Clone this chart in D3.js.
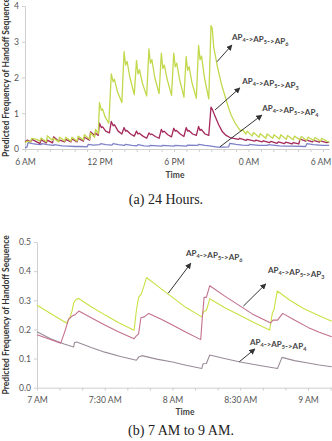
<!DOCTYPE html>
<html>
<head>
<meta charset="utf-8">
<script src="https://cdn.jsdelivr.net/npm/d3@7"></script>
<style>
body { margin: 0; background: #fff; }
svg { display: block; }
</style>
</head>
<body>
<div id="plot"></div>
<script>
// (a) 24 hours -- [hour of day, value], hours past 24 are the next morning
const dayTicks = [6, 12, 18, 24, 30];
const dayTickLabels = ["6 AM", "12 PM", "6 PM", "0 AM", "6 AM"];
const dayYTicks = [0, 1, 2, 3, 4];

const dayAP6 = [[6.0,0.18],[6.2,0.22],[6.45,0.2],[6.55,0.3],[6.95,0.27],[7.2,0.22],[7.3,0.31],[7.72,0.2],[7.8,0.37],
  [8.22,0.24],[8.3,0.3],[8.72,0.2],[8.78,0.33],[9.2,0.22],[9.28,0.33],[9.7,0.22],[9.78,0.33],[10.2,0.22],[10.28,0.36],
  [10.7,0.25],[10.78,0.4],[11.2,0.27],[11.28,0.45],[11.6,0.33],[11.68,0.55],[11.9,0.42],[12.0,1.3],[12.15,1.08],
  [12.25,1.12],[12.45,0.9],[12.75,0.72],[12.95,2.1],[13.1,1.88],[13.2,1.95],[13.45,1.6],[13.8,1.3],[13.98,2.72],
  [14.1,2.35],[14.22,2.45],[14.45,2.0],[14.8,1.52],[14.98,2.48],[15.1,2.1],[15.22,2.22],[15.45,1.85],[15.8,1.48],
  [15.98,2.8],[16.1,2.4],[16.22,2.5],[16.45,2.0],[16.8,1.55],[16.98,2.68],[17.1,2.25],[17.22,2.35],[17.45,1.95],
  [17.8,1.5],[17.98,2.68],[18.1,2.3],[18.22,2.4],[18.45,1.95],[18.8,1.45],[18.98,2.58],[19.1,2.2],[19.22,2.3],
  [19.45,1.85],[19.8,1.42],[19.98,2.9],[20.1,2.5],[20.22,2.6],[20.45,2.0],[20.8,1.4],[20.98,3.45],[21.08,3.38],
  [21.2,2.85],[21.5,2.3],[21.8,1.84],[22.35,1.2],[22.6,0.95],[22.9,0.74],[23.2,0.58],[23.4,0.5],[23.5,0.55],
  [23.8,0.42],[23.9,0.5],[24.3,0.36],[24.4,0.46],[24.85,0.33],[24.95,0.43],[25.4,0.3],[25.5,0.42],[25.95,0.3],
  [26.05,0.4],[26.5,0.28],[26.6,0.4],[27.05,0.27],[27.15,0.38],[27.6,0.26],[27.7,0.36],[28.15,0.25],[28.25,0.35],
  [28.7,0.24],[28.8,0.33],[29.25,0.24],[29.35,0.32],[29.8,0.22],[29.9,0.3],[30.3,0.22],[30.5,0.2]];

const dayAP3 = [[6.0,0.2],[6.2,0.25],[6.45,0.2],[6.55,0.27],[6.95,0.2],[7.2,0.15],[7.3,0.26],[7.72,0.17],[7.8,0.25],
  [8.22,0.17],[8.3,0.34],[8.72,0.22],[8.78,0.25],[9.2,0.2],[9.28,0.27],[9.7,0.2],[9.78,0.28],[10.2,0.2],[10.28,0.3],
  [10.7,0.22],[10.78,0.33],[11.2,0.25],[11.28,0.48],[11.6,0.38],[11.68,0.45],[11.9,0.38],[12.0,0.72],[12.15,0.6],
  [12.25,0.62],[12.5,0.5],[12.8,0.45],[12.95,0.77],[13.1,0.65],[13.2,0.68],[13.5,0.5],[13.8,0.42],[13.98,0.6],
  [14.1,0.5],[14.2,0.52],[14.5,0.42],[14.8,0.36],[14.98,0.5],[15.1,0.42],[15.2,0.44],[15.5,0.36],[15.8,0.3],
  [15.98,0.45],[16.1,0.4],[16.2,0.42],[16.5,0.35],[16.8,0.3],[16.98,0.55],[17.1,0.47],[17.2,0.5],[17.5,0.4],
  [17.8,0.34],[17.98,0.58],[18.1,0.5],[18.2,0.52],[18.5,0.42],[18.8,0.35],[18.98,0.6],[19.1,0.5],[19.2,0.52],
  [19.5,0.42],[19.8,0.38],[19.98,0.63],[20.1,0.52],[20.2,0.55],[20.5,0.42],[20.8,0.38],[20.98,1.17],[21.1,1.1],
  [21.3,0.92],[21.6,0.68],[21.9,0.48],[22.2,0.38],[22.5,0.32],[22.8,0.3],[23.2,0.27],[23.3,0.3],[23.8,0.24],
  [23.9,0.27],[24.5,0.22],[24.6,0.25],[25.1,0.2],[25.2,0.23],[25.7,0.18],[25.8,0.21],[26.3,0.16],[26.4,0.2],
  [26.9,0.15],[27.0,0.19],[27.5,0.14],[27.6,0.18],[28.05,0.14],[28.15,0.28],[28.6,0.22],[28.7,0.25],[29.15,0.2],
  [29.25,0.24],[29.7,0.19],[29.8,0.23],[30.3,0.18],[30.5,0.2]];

const dayAP4 = [[6.0,0.03],[6.15,0.05],[6.25,0.18],[6.6,0.15],[7.0,0.13],[7.3,0.12],[7.35,0.15],[7.8,0.12],[8.3,0.1],
  [8.35,0.12],[9.0,0.09],[9.5,0.08],[10.0,0.07],[10.5,0.07],[11.0,0.06],[11.1,0.13],[11.5,0.11],[12.0,0.12],
  [12.1,0.15],[12.5,0.12],[13.0,0.11],[13.1,0.15],[13.5,0.12],[14.0,0.1],[14.1,0.13],[14.6,0.1],[15.0,0.09],
  [15.1,0.12],[15.6,0.09],[16.0,0.08],[16.1,0.1],[17.0,0.08],[17.1,0.1],[18.0,0.08],[18.1,0.1],[19.0,0.08],
  [19.1,0.11],[19.9,0.1],[20.0,0.13],[20.5,0.1],[21.0,0.08],[21.5,0.05],[22.0,0.05],[22.4,0.06],[22.5,0.16],
  [23.0,0.13],[23.5,0.11],[24.0,0.1],[24.1,0.13],[24.8,0.1],[25.5,0.1],[25.6,0.12],[26.5,0.09],[27.0,0.08],
  [27.5,0.08],[28.6,0.07],[28.7,0.15],[29.2,0.12],[30.0,0.1],[30.5,0.1]];

// (b) 7 AM to 9 AM -- [minutes after 7 AM, value]
const morningTicks = [0, 30, 60, 90, 120];
const morningTickLabels = ["7 AM", "7:30 AM", "8 AM", "8:30 AM", "9 AM"];
const morningYTicks = [0, 0.1, 0.2, 0.3, 0.4, 0.5];

const morningAP6 = [[0,0.283],[13,0.222],[14.5,0.24],[15.5,0.262],[16.2,0.29],[17,0.3],[18.3,0.307],[24,0.278],
  [30,0.25],[36,0.224],[43,0.197],[44,0.265],[45,0.31],[46.2,0.322],[47.2,0.345],[48.5,0.378],[54,0.345],[60,0.31],
  [66,0.275],[73,0.243],[73.8,0.262],[75,0.265],[76.5,0.305],[83,0.275],[90,0.248],[96,0.224],[103,0.198],
  [104.2,0.255],[105,0.27],[106.4,0.332],[112,0.3],[118,0.272],[124,0.25],[130.5,0.228]];

const morningAP3 = [[0,0.182],[5,0.168],[10.5,0.153],[12.2,0.19],[13.2,0.215],[14,0.235],[15.4,0.245],[16.8,0.25],
  [18.5,0.263],[24,0.24],[30,0.215],[36,0.192],[43,0.168],[44,0.178],[45,0.185],[46,0.24],[47.5,0.243],[49.5,0.255],
  [55,0.235],[60,0.215],[66,0.19],[72.5,0.165],[73.2,0.24],[74,0.31],[75,0.31],[76.5,0.35],[83,0.315],[90,0.28],
  [96,0.25],[103.5,0.222],[104.5,0.232],[106.5,0.232],[108.8,0.255],[114,0.232],[120,0.207],[125,0.19],[130.5,0.175]];

const morningAP4 = [[0,0.192],[6,0.168],[12,0.15],[16.2,0.14],[16.6,0.155],[17.6,0.157],[24,0.138],[30,0.122],
  [37,0.107],[44,0.094],[45,0.105],[46.5,0.11],[53,0.098],[60,0.088],[66,0.077],[73,0.066],[73.5,0.082],[75,0.083],
  [76.5,0.112],[83,0.1],[90,0.088],[98,0.077],[106.5,0.066],[108.5,0.104],[114,0.093],[120,0.085],[125,0.078],[130.5,0.072]];

// subscripts of the three handoff sequences
const seqSubs = [["4","5","6"], ["4","5","3"], ["4","5","4"]];

const w = 332;
const h = 441;
const sansFont = "Lato, 'Open Sans', sans-serif";

const svg = d3.select("div#plot")
  .append("svg")
    .attr("width", w)
    .attr("height", h);

svg.append("defs").append("marker")
  .attr("id", "arrow")
  .attr("viewBox", "0 0 10 10")
  .attr("refX", 9)
  .attr("refY", 5)
  .attr("markerWidth", 6)
  .attr("markerHeight", 6)
  .attr("markerUnits", "userSpaceOnUse")
  .attr("orient", "auto")
  .append("path")
    .attr("d", "M0,0 L10,5 L0,10 Z")
    .attr("fill", "#333");

function drawPanel(cfg) {
  const g = svg.append("g");
  const xScale = d3.scaleLinear().domain(cfg.xDomain).range(cfg.xRange);
  const yScale = d3.scaleLinear().domain(cfg.yDomain).range(cfg.yRange);

  // y axis
  const yAxis = d3.axisLeft(yScale)
    .tickValues(cfg.yTicks)
    .tickFormat(cfg.yFormat)
    .tickSize(3)
    .tickSizeOuter(0)
    .tickPadding(cfg.yPad);
  const ya = g.append("g")
    .attr("transform", `translate(${cfg.xRange[0]},0)`)
    .call(yAxis);

  // x axis: minor ticks, labels only on the named ticks
  const xAxis = d3.axisBottom(xScale)
    .tickValues(cfg.xMinor)
    .tickFormat(d => {
      const i = cfg.xTicks.indexOf(d);
      return i >= 0 ? cfg.xLabels[i] : "";
    })
    .tickSize(3)
    .tickSizeOuter(0)
    .tickPadding(cfg.xPad);
  const xa = g.append("g")
    .attr("transform", `translate(0,${cfg.yRange[0]})`)
    .call(xAxis);

  [ya, xa].forEach(a => {
    a.select(".domain").attr("stroke", "#cfcfcf");
    a.selectAll(".tick line").attr("stroke", "#cfcfcf");
    a.selectAll(".tick text")
      .attr("fill", "#555")
      .style("font-family", sansFont)
      .style("font-size", "8.6px");
  });

  // keep the last x label inside the picture
  const lastTick = cfg.xTicks[cfg.xTicks.length - 1];
  xa.selectAll(".tick text")
    .filter(d => d === lastTick)
    .attr("dx", cfg.lastDx || 0);

  // series lines
  const line = d3.line()
    .x(d => xScale(d[0]))
    .y(d => yScale(d[1]));
  cfg.series.forEach(s => {
    g.append("path")
      .datum(s.data)
      .attr("d", line)
      .attr("fill", "none")
      .attr("stroke", s.color)
      .attr("stroke-width", cfg.lineWidth)
      .attr("stroke-linejoin", "round");
  });

  // arrows and sequence labels
  cfg.notes.forEach((n, i) => {
    g.append("line")
      .attr("x1", xScale(n.tail[0]))
      .attr("y1", yScale(n.tail[1]))
      .attr("x2", xScale(n.head[0]))
      .attr("y2", yScale(n.head[1]))
      .attr("stroke", "#333")
      .attr("stroke-width", 1)
      .attr("marker-end", "url(#arrow)");

    const t = g.append("text")
      .attr("x", xScale(n.text[0]))
      .attr("y", yScale(n.text[1]))
      .attr("fill", "#444")
      .style("font-family", sansFont)
      .style("font-weight", "bold")
      .style("font-size", "8px");
    seqSubs[i].forEach((sub, k) => {
      t.append("tspan").text((k > 0 ? "->" : "") + "AP");
      t.append("tspan").attr("dy", 2).style("font-size", "5.5px").text(sub);
      t.append("tspan").attr("dy", -2).text("");
    });
  });

  // axis titles
  g.append("text")
    .attr("x", cfg.timeAt[0])
    .attr("y", cfg.timeAt[1])
    .attr("text-anchor", "middle")
    .attr("fill", "#444")
    .style("font-family", sansFont)
    .style("font-weight", "bold")
    .style("font-size", "8.5px")
    .text("Time");

  g.append("text")
    .attr("transform", `translate(8.5,${(cfg.yRange[0] + cfg.yRange[1]) / 2}) rotate(-90)`)
    .attr("text-anchor", "middle")
    .attr("fill", "#333")
    .style("font-family", sansFont)
    .style("font-weight", "bold")
    .style("font-size", "8.5px")
    .text("Predicted Frequency of Handoff Sequence");

  // caption
  g.append("text")
    .attr("x", cfg.captionAt[0])
    .attr("y", cfg.captionAt[1])
    .attr("text-anchor", "middle")
    .attr("fill", "#222")
    .style("font-family", "'Liberation Serif', serif")
    .style("font-size", "14px")
    .text(cfg.caption);
}

// (a) 24 Hours
drawPanel({
  xDomain: [6, 30.5], xRange: [25, 329.2],
  yDomain: [0, 4], yRange: [149, 6],
  yTicks: dayYTicks, yFormat: d3.format("d"), yPad: 3,
  xTicks: dayTicks, xLabels: dayTickLabels, xMinor: d3.range(6, 31, 1), xPad: 7,
  lastDx: -2.5,
  lineWidth: 1.3,
  series: [
    {data: dayAP4, color: "#7d80c6"},
    {data: dayAP3, color: "#a5295b"},
    {data: dayAP6, color: "#c3d84c"}
  ],
  notes: [
    {tail: [21.46, 2.44], head: [22.67, 2.91], text: [22.67, 3.05]},
    {tail: [21.3, 1.09], head: [23.31, 1.71], text: [23.5, 1.83]},
    {tail: [21.7, 0.06], head: [25.08, 0.95], text: [25.1, 1.05]}
  ],
  timeAt: [175, 178],
  captionAt: [166, 204],
  caption: "(a) 24 Hours."
});

// (b) 7 AM to 9 AM
drawPanel({
  xDomain: [0, 130.5], xRange: [37, 331.7],
  yDomain: [0, 0.5], yRange: [387.7, 242],
  yTicks: morningYTicks, yFormat: d3.format(".1f"), yPad: 3,
  xTicks: morningTicks, xLabels: morningTickLabels, xMinor: d3.range(0, 131, 10), xPad: 6,
  lineWidth: 1.1,
  series: [
    {data: morningAP4, color: "#9a8c98"},
    {data: morningAP6, color: "#cbe045"},
    {data: morningAP3, color: "#c2708e"}
  ],
  notes: [
    {tail: [58.1, 0.324], head: [68.1, 0.427], text: [66.0, 0.452]},
    {tail: [91.4, 0.28], head: [101.3, 0.356], text: [102.3, 0.393]},
    {tail: [89.6, 0.089], head: [96.5, 0.133], text: [94.3, 0.147]}
  ],
  timeAt: [185, 415],
  captionAt: [181, 435],
  caption: "(b) 7 AM to 9 AM."
});
</script>
</body>
</html>
